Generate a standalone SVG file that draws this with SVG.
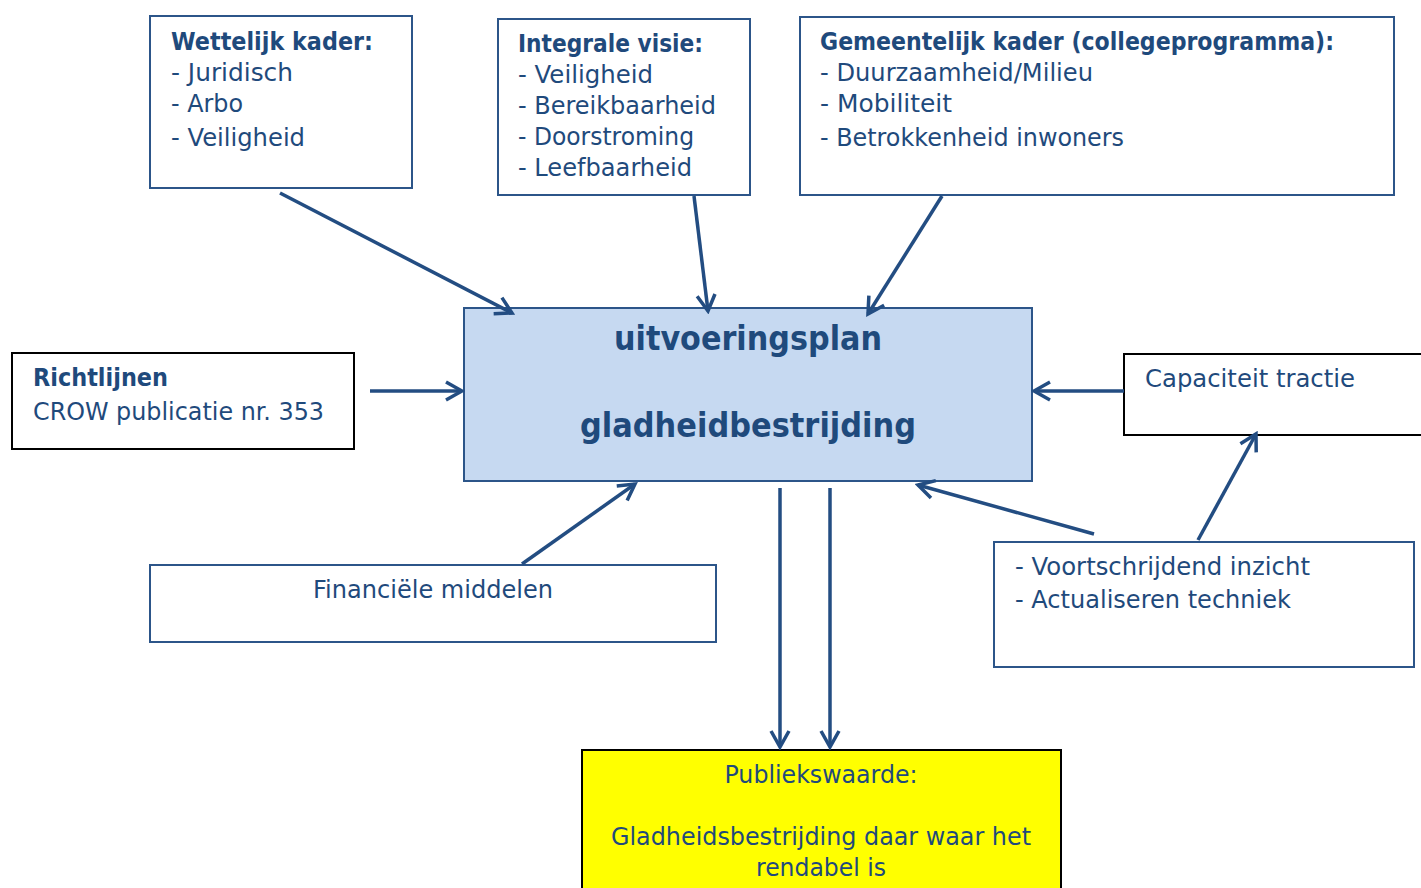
<svg xmlns="http://www.w3.org/2000/svg" width="1421" height="888" viewBox="0 0 1421 888">
<style>
text{font-family:"DejaVu Sans","Liberation Sans",sans-serif;fill:#1f4a7c;font-size:24px}
.b{font-weight:bold}
.big{font-size:34px;font-weight:bold}
.box{fill:#fff;stroke:#2c5589;stroke-width:2}
.kbox{fill:#fff;stroke:#000;stroke-width:2}
.con line{stroke:#234d82;stroke-width:3.5;fill:none}
</style>
<defs>
<marker id="a" viewBox="0 0 24 24" refX="21" refY="12" markerWidth="24" markerHeight="24" markerUnits="userSpaceOnUse" orient="auto">
<path d="M5,3 L21,12 L5,21" fill="none" stroke="#234d82" stroke-width="3.5"/>
</marker>
</defs>
<rect width="1421" height="888" fill="#fff"/>
<g id="wettelijk">
<rect class="box" x="150" y="16" width="262" height="172"/>
<text class="b" x="171" y="50" textLength="202" lengthAdjust="spacingAndGlyphs">Wettelijk kader:</text>
<text x="171" y="81" textLength="122" lengthAdjust="spacingAndGlyphs">- Juridisch</text>
<text x="171" y="112" textLength="72" lengthAdjust="spacingAndGlyphs">- Arbo</text>
<text x="171" y="146" textLength="134" lengthAdjust="spacingAndGlyphs">- Veiligheid</text>
</g>
<g id="integrale">
<rect class="box" x="498" y="19" width="252" height="176"/>
<text class="b" x="518" y="52" textLength="185" lengthAdjust="spacingAndGlyphs">Integrale visie:</text>
<text x="518" y="83" textLength="135" lengthAdjust="spacingAndGlyphs">- Veiligheid</text>
<text x="518" y="114" textLength="198" lengthAdjust="spacingAndGlyphs">- Bereikbaarheid</text>
<text x="518" y="145" textLength="176" lengthAdjust="spacingAndGlyphs">- Doorstroming</text>
<text x="518" y="176" textLength="174" lengthAdjust="spacingAndGlyphs">- Leefbaarheid</text>
</g>
<g id="gemeentelijk">
<rect class="box" x="800" y="17" width="594" height="178"/>
<text class="b" x="820" y="50" textLength="514" lengthAdjust="spacingAndGlyphs">Gemeentelijk kader (collegeprogramma):</text>
<text x="820" y="81" textLength="273" lengthAdjust="spacingAndGlyphs">- Duurzaamheid/Milieu</text>
<text x="820" y="112" textLength="132" lengthAdjust="spacingAndGlyphs">- Mobiliteit</text>
<text x="820" y="146" textLength="304" lengthAdjust="spacingAndGlyphs">- Betrokkenheid inwoners</text>
</g>
<g id="uitvoeringsplan">
<rect x="464" y="308" width="568" height="173" fill="#c6d9f1" stroke="#2c5589" stroke-width="2"/>
<text class="big" x="748" y="350" text-anchor="middle" textLength="268" lengthAdjust="spacingAndGlyphs">uitvoeringsplan</text>
<text class="big" x="748" y="437" text-anchor="middle" textLength="336" lengthAdjust="spacingAndGlyphs">gladheidbestrijding</text>
</g>
<g id="richtlijnen">
<rect class="kbox" x="12" y="353" width="342" height="96"/>
<text class="b" x="33" y="386" textLength="135" lengthAdjust="spacingAndGlyphs">Richtlijnen</text>
<text x="33" y="420" textLength="291" lengthAdjust="spacingAndGlyphs">CROW publicatie nr. 353</text>
</g>
<g id="capaciteit">
<rect class="kbox" x="1124" y="354" width="310" height="81"/>
<text x="1145" y="387" textLength="210" lengthAdjust="spacingAndGlyphs">Capaciteit tractie</text>
</g>
<g id="financieel">
<rect class="box" x="150" y="565" width="566" height="77"/>
<text x="433" y="598" text-anchor="middle" textLength="240" lengthAdjust="spacingAndGlyphs">Financiële middelen</text>
</g>
<g id="voortschrijdend">
<rect class="box" x="994" y="542" width="420" height="125"/>
<text x="1015" y="575" textLength="295" lengthAdjust="spacingAndGlyphs">- Voortschrijdend inzicht</text>
<text x="1015" y="608" textLength="276" lengthAdjust="spacingAndGlyphs">- Actualiseren techniek</text>
</g>
<g id="publiekswaarde">
<rect x="582" y="750" width="479" height="150" fill="#ffff00" stroke="#000" stroke-width="2"/>
<text x="821" y="783" text-anchor="middle" textLength="193" lengthAdjust="spacingAndGlyphs">Publiekswaarde:</text>
<text x="821" y="845" text-anchor="middle" textLength="420" lengthAdjust="spacingAndGlyphs">Gladheidsbestrijding daar waar het</text>
<text x="821" y="876" text-anchor="middle" textLength="130" lengthAdjust="spacingAndGlyphs">rendabel is</text>
</g>
<g id="connectors" class="con">
<line x1="280" y1="193" x2="512" y2="313" marker-end="url(#a)"/>
<line x1="694" y1="196" x2="708" y2="311" marker-end="url(#a)"/>
<line x1="942" y1="196" x2="868" y2="314" marker-end="url(#a)"/>
<line x1="370" y1="391" x2="462" y2="391" marker-end="url(#a)"/>
<line x1="1124" y1="391" x2="1034" y2="391" marker-end="url(#a)"/>
<line x1="522" y1="564" x2="635" y2="484" marker-end="url(#a)"/>
<line x1="1094" y1="534" x2="918" y2="485" marker-end="url(#a)"/>
<line x1="1198" y1="540" x2="1256" y2="434" marker-end="url(#a)"/>
<line x1="780" y1="488" x2="780" y2="747" marker-end="url(#a)"/>
<line x1="830" y1="488" x2="830" y2="747" marker-end="url(#a)"/>
</g>
</svg>
